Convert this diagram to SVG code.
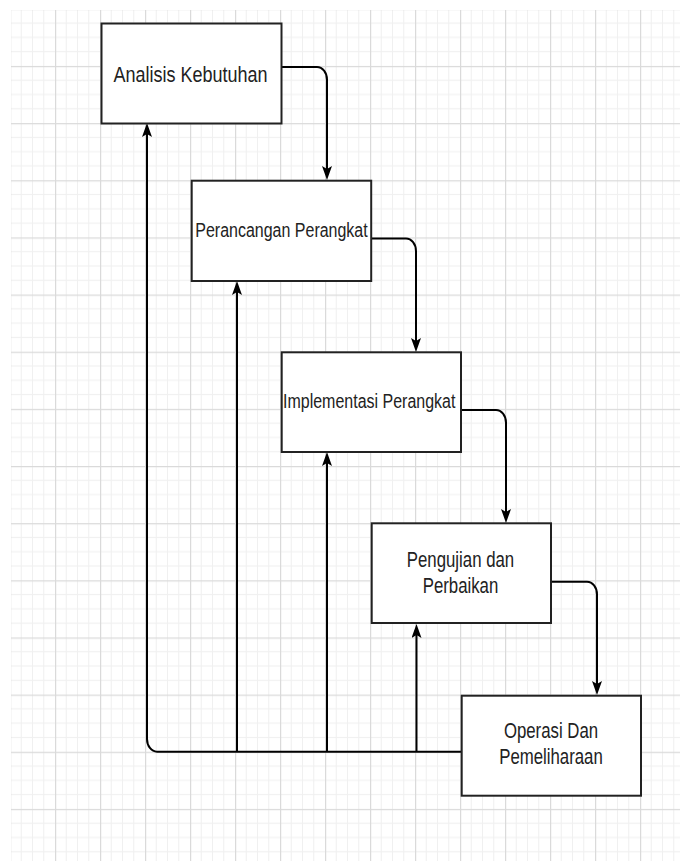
<svg xmlns="http://www.w3.org/2000/svg" width="680" height="861" viewBox="0 0 680 861">
<style>
.box{fill:#fff;stroke:#222;stroke-width:2}
.lbl{font-family:"Liberation Sans",Arial,sans-serif;fill:#222;text-anchor:middle}
.conn{fill:none;stroke:#000;stroke-width:2}
</style>
<defs>
<pattern id="grid" patternUnits="userSpaceOnUse" x="10" y="8.8" width="45" height="57.15">
<rect x="0" y="0" width="45" height="57.15" fill="#fff"/>
<g fill="#f0f0f0">
<rect x="10.75" y="0" width="1" height="57.15"/>
<rect x="22" y="0" width="1" height="57.15"/>
<rect x="33.25" y="0" width="1" height="57.15"/>
<rect x="0" y="13.79" width="45" height="1"/>
<rect x="0" y="28.07" width="45" height="1"/>
<rect x="0" y="42.36" width="45" height="1"/>
</g>
<g fill="#dadada">
<rect x="0" y="0" width="1.2" height="57.15"/>
<rect x="0" y="0" width="45" height="1.2"/>
</g>
</pattern>
<marker id="arr" viewBox="0 0 14 10" refX="6" refY="5" markerWidth="14" markerHeight="10" markerUnits="userSpaceOnUse" orient="auto">
<path d="M0,0 L14,5 L0,10 L3,5 Z" fill="#000"/>
</marker>
</defs>
<rect x="0" y="0" width="680" height="861" fill="#fff"/>
<rect x="11" y="10" width="669" height="851" fill="url(#grid)"/>
<g id="connectors">
<path class="conn" d="M282,67 H317 A10,12.7 0 0 1 327,79.7 V172" marker-end="url(#arr)"/>
<path class="conn" d="M371,238.5 H406 A10,12.7 0 0 1 416,251.2 V344" marker-end="url(#arr)"/>
<path class="conn" d="M461,410 H496 A10,12.7 0 0 1 506,422.7 V515" marker-end="url(#arr)"/>
<path class="conn" d="M551,581.7 H587 A10,12.7 0 0 1 597,594.4 V687" marker-end="url(#arr)"/>
<path class="conn" d="M461,751.7 H157 A10,12.7 0 0 1 147,739 V131" marker-end="url(#arr)"/>
<path class="conn" d="M237,751.7 V289" marker-end="url(#arr)"/>
<path class="conn" d="M327,751.7 V460" marker-end="url(#arr)"/>
<path class="conn" d="M416.5,751.7 V632" marker-end="url(#arr)"/>
</g>
<g id="analisis">
<rect class="box" x="101.5" y="23.5" width="180" height="100"/>
<text class="lbl" font-size="18" transform="translate(190.5,82) scale(1,1.27)">Analisis Kebutuhan</text>
</g>
<g id="perancangan">
<rect class="box" x="191.7" y="180.7" width="179.5" height="100.3"/>
<text class="lbl" font-size="16" transform="translate(281.5,237.3) scale(1,1.27)">Perancangan Perangkat</text>
</g>
<g id="implementasi">
<rect class="box" x="281.7" y="352.3" width="179.3" height="99.7"/>
<text class="lbl" font-size="16" transform="translate(369.2,408.3) scale(1,1.27)">Implementasi Perangkat</text>
</g>
<g id="pengujian">
<rect class="box" x="371.7" y="523.3" width="179.3" height="99.7"/>
<text class="lbl" font-size="16.8" transform="translate(460.5,566.7) scale(1,1.27)">Pengujian dan</text>
<text class="lbl" font-size="16.8" transform="translate(460.5,592.7) scale(1,1.27)">Perbaikan</text>
</g>
<g id="operasi">
<rect class="box" x="461.7" y="695.7" width="179.3" height="100"/>
<text class="lbl" font-size="16.8" transform="translate(551,738.3) scale(1,1.27)">Operasi Dan</text>
<text class="lbl" font-size="16.8" transform="translate(551,764) scale(1,1.27)">Pemeliharaan</text>
</g>
</svg>
